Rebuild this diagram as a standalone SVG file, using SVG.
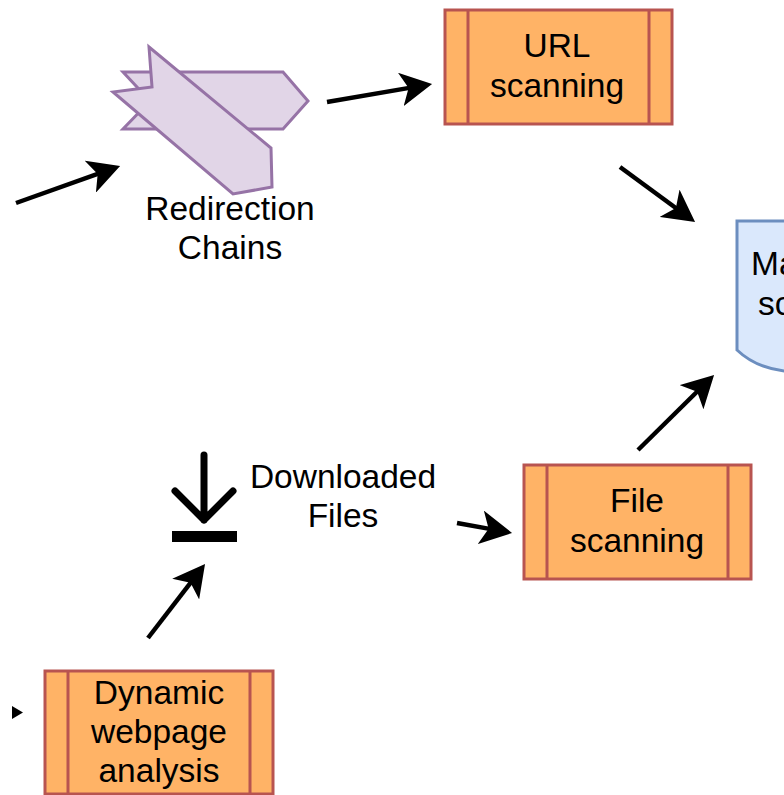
<svg xmlns="http://www.w3.org/2000/svg" width="784" height="795" viewBox="0 0 784 795">
<style>
.box{fill:#ffb366;stroke:#b85450;stroke-width:3}
.div{fill:none;stroke:#b85450;stroke-width:3}
.step{fill:#e1d5e7;stroke:#9673a6;stroke-width:3;stroke-linejoin:miter}
.doc{fill:#dae8fc;stroke:#6c8ebf;stroke-width:3}
.conn{fill:none;stroke:#000;stroke-width:4.5;marker-end:url(#arrow)}
text{font-family:"Liberation Sans",Arial,sans-serif;font-size:33.5px;fill:#000;text-anchor:middle}
.start{text-anchor:start}
</style>
<defs>
<marker id="arrow" markerUnits="userSpaceOnUse" markerWidth="34" markerHeight="34" refX="10.300" refY="15" orient="auto" viewBox="0 0 30 30">
<path d="M0 0L28 15L0 30L7 15Z" fill="#000"/>
</marker>
</defs>
<rect width="784" height="795" fill="#fff"/>
<g id="connectors">
<path class="conn" d="M16 203L101.200 172.700"/>
<path class="conn" d="M327 102L412.300 87.400"/>
<path class="conn" d="M620 167L678.900 210.200"/>
<path class="conn" d="M638 450L699.800 389"/>
<path class="conn" d="M457 523L492.300 529.400"/>
<path class="conn" d="M148 638L192.800 579.800"/>
<path d="M12 706L23 712.500L12 719Z" fill="#000"/>
</g>
<g id="redirection-chains">
<path class="step" d="M123 72H283L308 101L283 129H123L150 101Z"/>
<path class="step" d="M149 47L271 148L272 187L233 194L113 92L152 87Z"/>
<text x="230" y="220">Redirection</text>
<text x="230" y="259">Chains</text>
</g>
<g id="url-scanning">
<rect class="box" x="445" y="10" width="227" height="114"/>
<path class="div" d="M468 10V124M649 10V124"/>
<text x="557" y="57">URL</text>
<text x="557" y="97">scanning</text>
</g>
<g id="malware-score">
<path class="doc" d="M737 221H800V372Q760 372 737 350Z"/>
<text class="start" x="751" y="275">Ma</text>
<text class="start" x="758" y="315">sc</text>
</g>
<g id="downloaded-files">
<path d="M204 455V520M175 491L204 520L233 491" fill="none" stroke="#000" stroke-width="7" stroke-linecap="round" stroke-linejoin="round"/>
<rect x="172" y="531" width="65" height="11" fill="#000"/>
<text x="343" y="488">Downloaded</text>
<text x="343" y="527">Files</text>
</g>
<g id="file-scanning">
<rect class="box" x="524" y="465" width="227" height="114"/>
<path class="div" d="M547 465V579M728 465V579"/>
<text x="637" y="512">File</text>
<text x="637" y="552">scanning</text>
</g>
<g id="dynamic-webpage-analysis">
<rect class="box" x="45" y="671" width="228" height="123"/>
<path class="div" d="M68 671V794M250 671V794"/>
<text x="159" y="704">Dynamic</text>
<text x="159" y="743">webpage</text>
<text x="159" y="782">analysis</text>
</g>
</svg>
